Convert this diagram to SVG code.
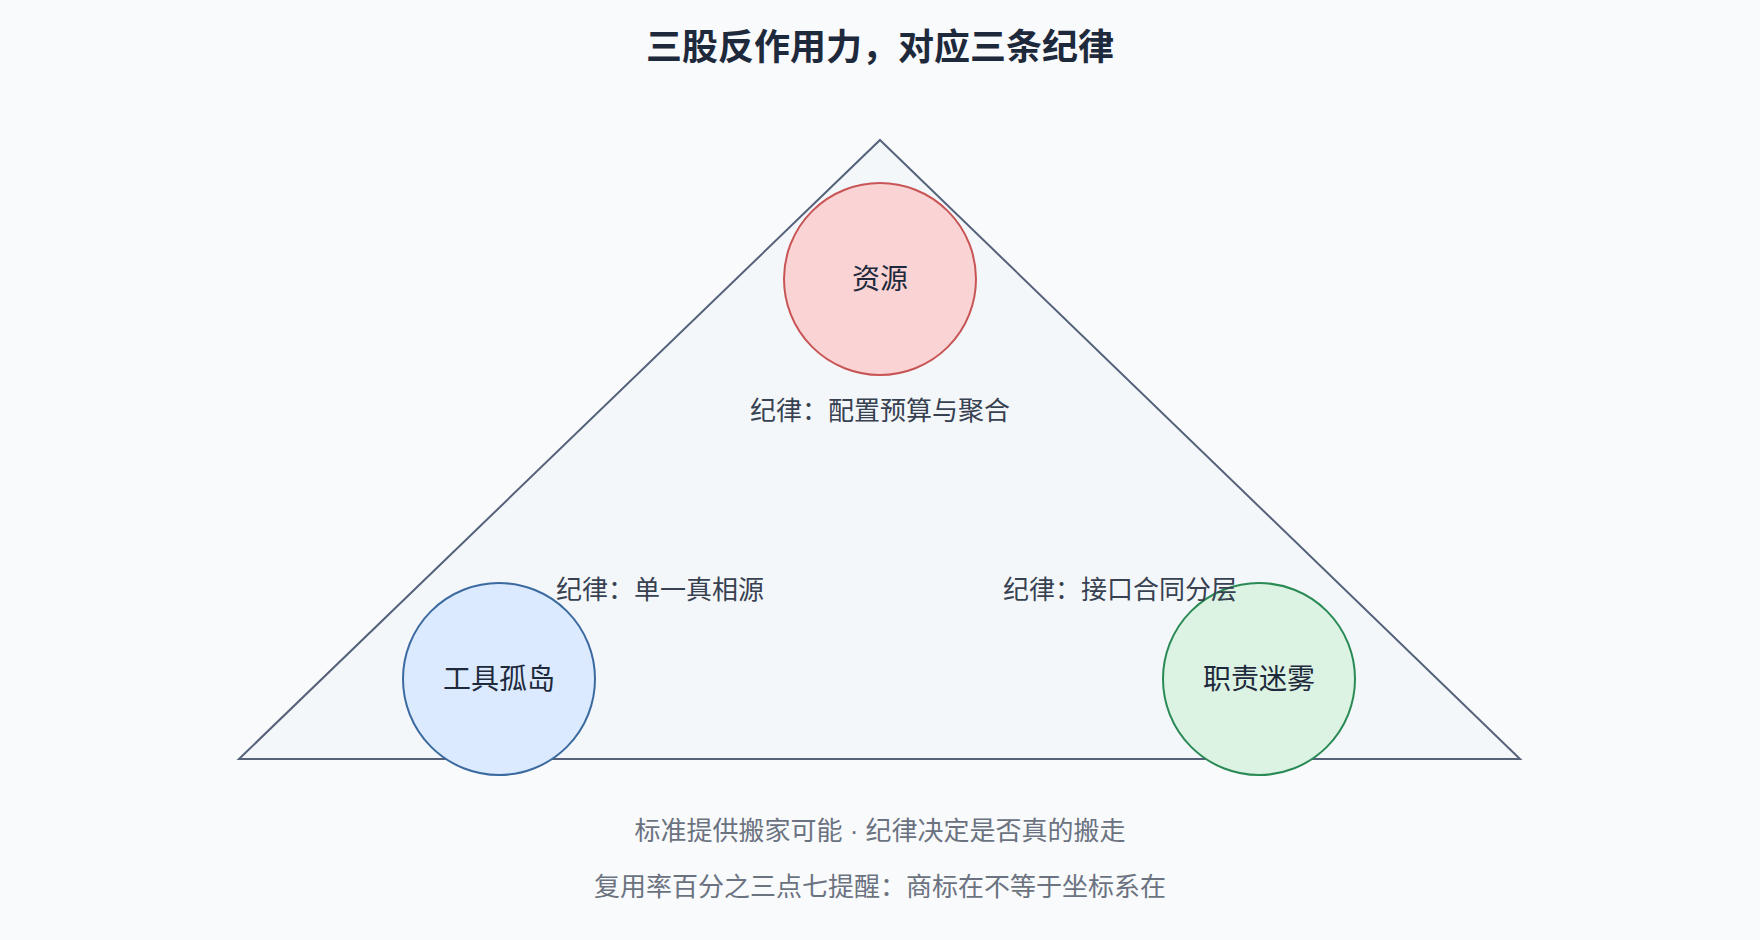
<svg xmlns="http://www.w3.org/2000/svg" width="1760" height="940" viewBox="0 0 1760 940">
<style>
text{font-family:"Liberation Sans","Noto Sans CJK SC",sans-serif;text-anchor:middle;dominant-baseline:central}
.t{font-size:36px;font-weight:bold;fill:#1e293b}
.n{font-size:28px;fill:#1e293b}
.l{font-size:26px;fill:#374151}
.f{font-size:26px;fill:#6b7280}
</style>
<rect width="1760" height="940" fill="#f8fafc"/>
<text class="t" x="880" y="47">三股反作用力，对应三条纪律</text>
<g id="connectors">
<polygon points="880,140 1520,759 239,759" fill="#f1f5f9" fill-opacity="0.6" stroke="#55627a" stroke-width="2"/>
</g>
<g id="resource"><circle cx="880" cy="279" r="96" fill="#fad4d4" stroke="#c85555" stroke-width="2"/><text class="n" x="880" y="279">资源</text></g>
<g id="tools"><circle cx="499" cy="679" r="96" fill="#dbeafe" stroke="#3b6aa0" stroke-width="2"/><text class="n" x="499" y="679">工具孤岛</text></g>
<g id="duty"><circle cx="1259" cy="679" r="96" fill="#dcf3e3" stroke="#2a8a55" stroke-width="2"/><text class="n" x="1259" y="679">职责迷雾</text></g>
<g id="labels">
<text class="l" x="880" y="411">纪律：配置预算与聚合</text>
<text class="l" x="660" y="590">纪律：单一真相源</text>
<text class="l" x="1120" y="590">纪律：接口合同分层</text>
</g>
<text class="f" x="880" y="831">标准提供搬家可能 · 纪律决定是否真的搬走</text>
<text class="f" x="880" y="887">复用率百分之三点七提醒：商标在不等于坐标系在</text>
</svg>
